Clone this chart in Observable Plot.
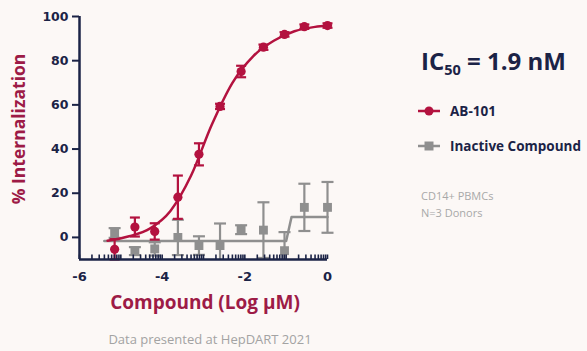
<!DOCTYPE html>
<html>
<head>
<meta charset="utf-8">
<script src="https://cdn.jsdelivr.net/npm/d3@7"></script>
<script src="https://cdn.jsdelivr.net/npm/@observablehq/plot@0.6"></script>
<style>
  html, body { margin: 0; padding: 0; background: #fcf8f6; }
  #wrap { position: relative; width: 587px; height: 351px; overflow: hidden; background: #fcf8f6; font-family: "Open Sans", Lato, sans-serif; }
  #chart { position: absolute; left: 0; top: 0; }
  .abs { position: absolute; white-space: nowrap; }
  #ylabel { left: 18px; top: 129px; transform: translate(-50%, -50%) rotate(-90deg); font-size: 17.5px; font-weight: 700; color: #9d1b46; }
  #xlabel { left: 0; width: 410px; top: 289px; text-align: center; font-size: 19px; font-weight: 700; color: #9d1b46; }
  #caption { left: 0; width: 420px; top: 330px; text-align: center; font-size: 13px; color: #a3a3a3; }
  #ic50 { left: 421px; top: 44px; font-size: 24px; font-weight: 700; color: #1b2346; }
  #ic50 sub { font-size: 14.5px; vertical-align: -5px; line-height: 0; }
  .leg { left: 418px; font-size: 13.5px; font-weight: 700; color: #1b2346; display: flex; align-items: center; }
  .leg svg { margin-right: 10px; }
  .note { left: 421px; font-size: 11px; color: #a8a8a8; }
</style>
</head>
<body>
<div id="wrap">
  <div id="chart"></div>
  <div class="abs" id="ylabel">% Internalization</div>
  <div class="abs" id="xlabel">Compound (Log µM)</div>
  <div class="abs" id="caption">Data presented at HepDART 2021</div>
  <div class="abs" id="ic50">IC<sub>50</sub> = 1.9 nM</div>
  <div class="abs leg" id="leg1" style="top:102px"></div>
  <div class="abs leg" id="leg2" style="top:137px"></div>
  <div class="abs note" style="top:188px">CD14+ PBMCs</div>
  <div class="abs note" style="top:205px">N=3 Donors</div>
</div>
<script>
// Concentrations (log µM) shared by both compounds
const logConc = [-5.15, -4.66, -4.18, -3.62, -3.11, -2.60, -2.09, -1.55, -1.04, -0.56, 0];

// AB-101: mean % internalization and SD
const ab101Mean = [-5.4, 4.7, 2.7, 18.2, 37.6, 59.3, 75.1, 86.1, 91.9, 95.4, 95.9];
const ab101Sd   = [4.6, 4.3, 3.7, 9.8, 5.0, 1.2, 2.6, 1.2, 1.0, 1.0, 1.0];

// Inactive compound: mean % internalization and SD
const inactiveMean = [2.0, -6.2, -5.2, 0.0, -3.7, -3.7, 3.5, 3.3, -6.0, 13.6, 13.6];
const inactiveSd   = [2.2, 1.8, 3.0, 8.0, 4.2, 10.0, 2.0, 12.6, 8.4, 10.7, 11.5];

// Fitted dose-response curves
const ab101FitX = [-5.32, -4.8, -4.3, -3.8, -3.3, -2.8, -2.3, -1.8, -1.3, -0.8, -0.3, 0];
const ab101FitY = [-1.5, 0.5, 4.0, 12.0, 28.0, 51.0, 70.0, 82.0, 89.0, 93.3, 95.3, 95.8];
const inactiveFitX = [-5.4, -1.0, -0.87, 0];
const inactiveFitY = [-1.6, -1.6, 9.2, 9.2];

// Axis ticks
const yTicks = [0, 20, 40, 60, 80, 100];
const xTickLabels = [-6, -4, -2, 0];
const yFloor = -10;

const red = "#b3123f";
const gray = "#8f8f8f";
const navy = "#1b2346";

const ab101 = logConc.map((x, i) => ({x, y: ab101Mean[i], sd: ab101Sd[i]}));
const inactive = logConc.map((x, i) => ({x, y: inactiveMean[i], sd: inactiveSd[i]}));
const ab101Fit = ab101FitX.map((x, i) => ({x, y: ab101FitY[i]}));
const inactiveFit = inactiveFitX.map((x, i) => ({x, y: inactiveFitY[i]}));

// log-style minor ticks within each unit of the x axis
const minorTicks = [];
for (let d = -6; d < 0; d++) {
  minorTicks.push(d);
  for (let k = 2; k <= 9; k++) minorTicks.push(d + Math.log10(k));
}
minorTicks.push(0);

// horizontal cap for error bars
const cap = {draw(ctx, size) { const w = Math.sqrt(size / Math.PI); ctx.moveTo(-w, 0); ctx.lineTo(w, 0); }};

// error bars stop at the bottom of the axis
function errorBars(data, color, capR) {
  return [
    Plot.ruleX(data, {x: "x", y1: d => Math.max(yFloor, d.y - d.sd), y2: d => d.y + d.sd, stroke: color, strokeWidth: 2.2}),
    Plot.dot(data, {x: "x", y: d => d.y + d.sd, symbol: cap, r: capR, stroke: color, strokeWidth: 2.2, fill: "none"}),
    Plot.dot(data.filter(d => d.y - d.sd >= yFloor), {x: "x", y: d => d.y - d.sd, symbol: cap, r: capR, stroke: color, strokeWidth: 2.2, fill: "none"})
  ];
}

const chart = Plot.plot({
  width: 340,
  height: 351,
  marginTop: 16,
  marginBottom: 92,
  marginLeft: 79,
  marginRight: 13,
  style: {background: "transparent", fontFamily: "DejaVu Sans, sans-serif", overflow: "visible"},
  x: {domain: [-6, 0]},
  y: {domain: [yFloor, 100]},
  marks: [
    // inactive compound
    errorBars(inactive, gray, 6),
    Plot.line(inactiveFit, {x: "x", y: "y", stroke: gray, strokeWidth: 2.5}),
    Plot.dot(inactive, {x: "x", y: "y", symbol: "square", r: 5, fill: gray}),
    // AB-101
    errorBars(ab101, red, 5),
    Plot.line(ab101Fit, {x: "x", y: "y", stroke: red, strokeWidth: 2.5, curve: "monotone-x"}),
    Plot.dot(ab101, {x: "x", y: "y", r: 4.6, fill: red}),
    // axes
    Plot.axisX(minorTicks, {tickSize: -4.5, stroke: navy, strokeWidth: 1.6, text: null, label: null}),
    Plot.axisX(xTickLabels, {tickSize: 0, tickPadding: 12, tickFormat: d => String(d), fontSize: 13, fontWeight: 700, fill: navy, label: null}),
    Plot.axisY(yTicks, {tickSize: 7, tickPadding: 4, stroke: navy, strokeWidth: 2, fontSize: 12.5, fontWeight: 700, fill: navy, label: null}),
    Plot.ruleX([-6], {y1: yFloor, y2: 100, stroke: navy, strokeWidth: 2.5}),
    Plot.ruleY([yFloor], {x1: -6, x2: 0, stroke: navy, strokeWidth: 2.5})
  ]
});
document.getElementById("chart").appendChild(chart);

// legend swatches
function swatch(color, shape) {
  const s = d3.create("svg").attr("width", 22).attr("height", 12);
  s.append("line").attr("x1", 0).attr("x2", 22).attr("y1", 6).attr("y2", 6).attr("stroke", color).attr("stroke-width", 2.5);
  if (shape === "circle") s.append("circle").attr("cx", 11).attr("cy", 6).attr("r", 4.5).attr("fill", color);
  else s.append("rect").attr("x", 6.5).attr("y", 1.5).attr("width", 9).attr("height", 9).attr("fill", color);
  return s.node();
}
const l1 = document.getElementById("leg1");
l1.appendChild(swatch(red, "circle"));
l1.appendChild(document.createTextNode("AB-101"));
const l2 = document.getElementById("leg2");
l2.appendChild(swatch(gray, "square"));
l2.appendChild(document.createTextNode("Inactive Compound"));
</script>
</body>
</html>
